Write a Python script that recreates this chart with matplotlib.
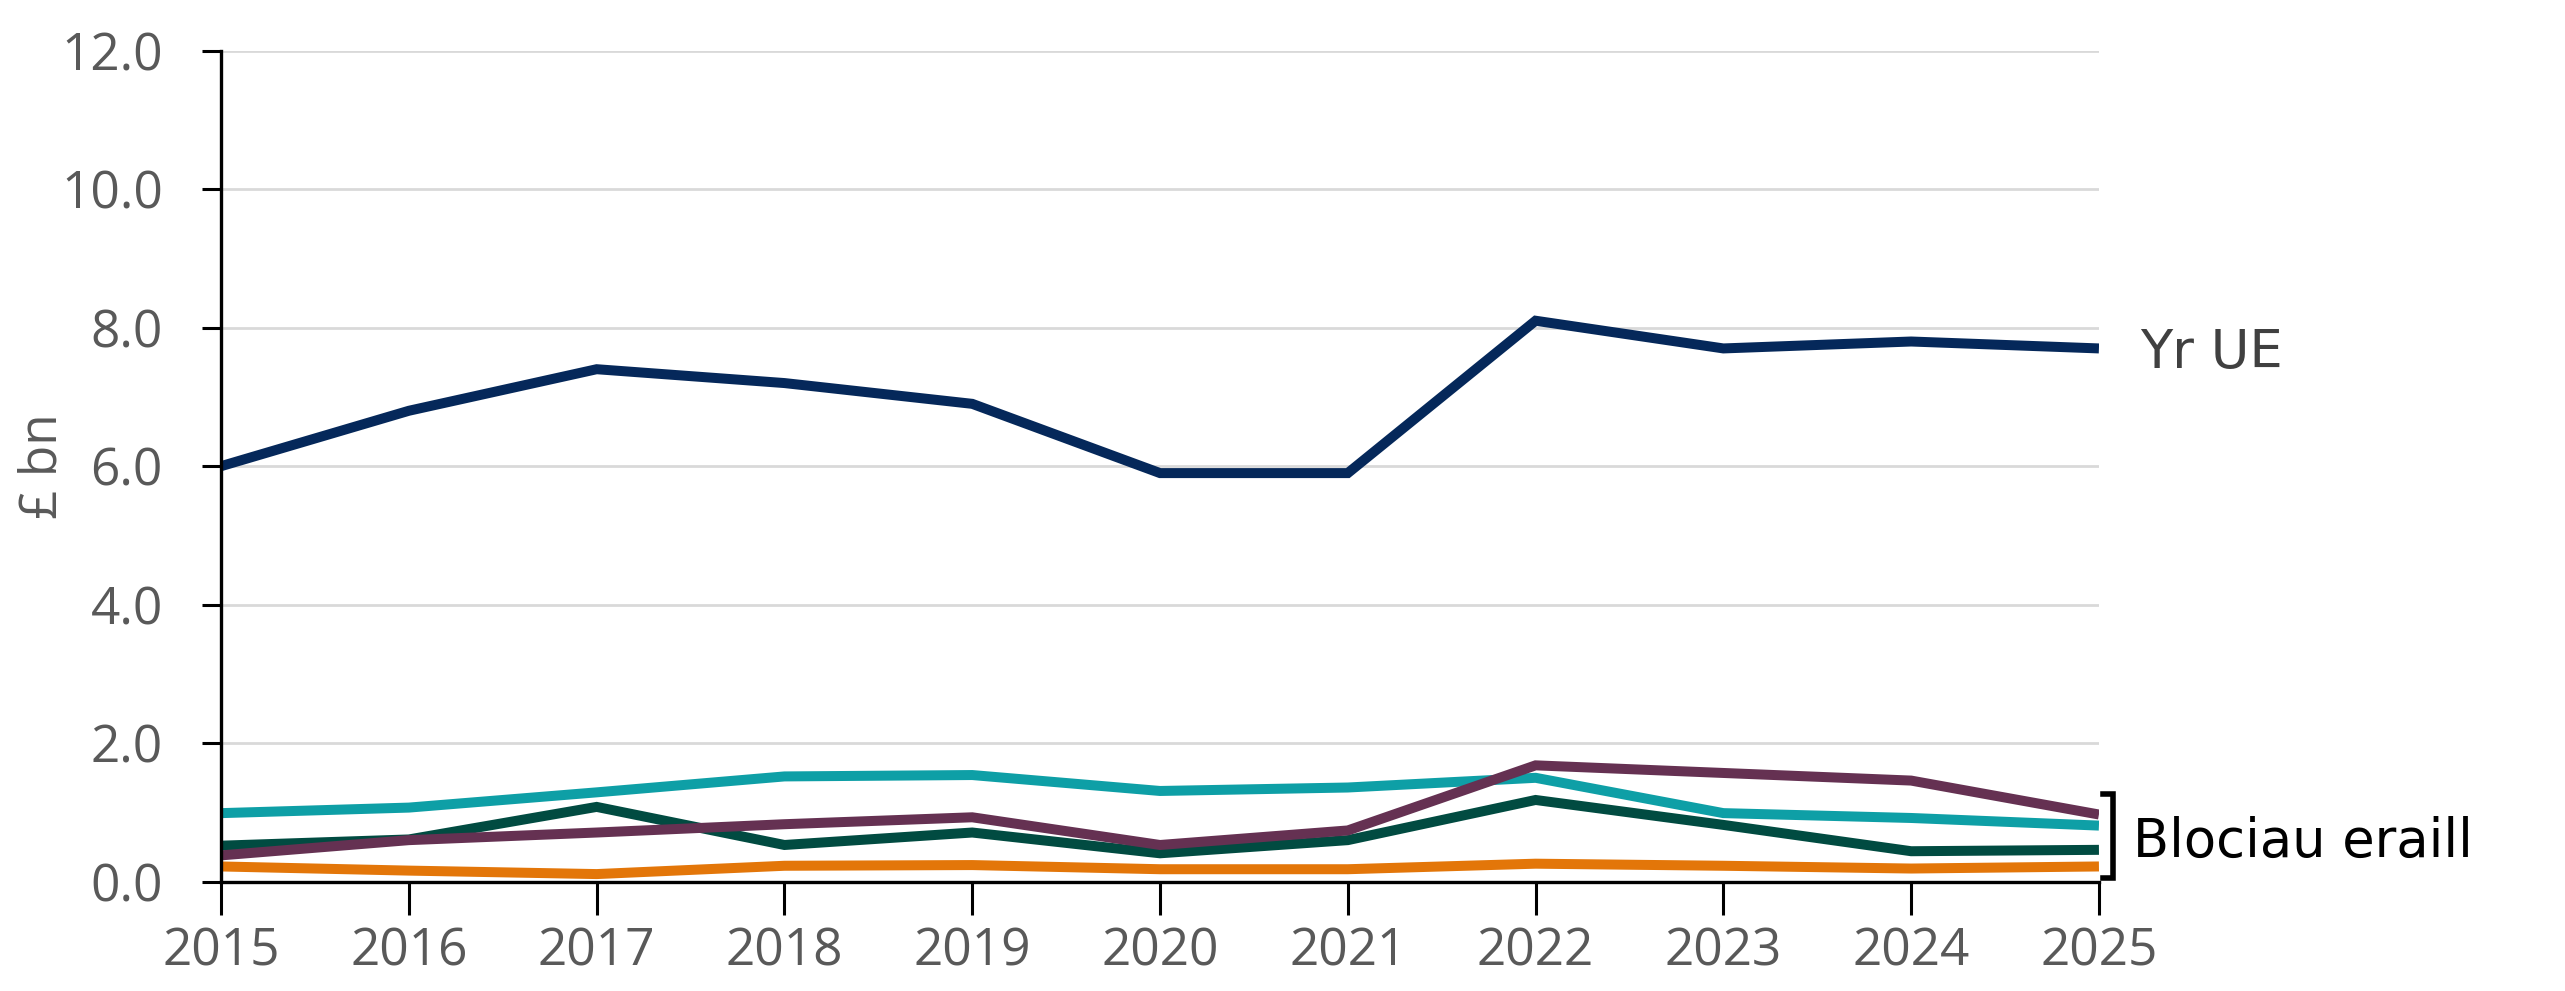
import matplotlib.pyplot as plt

plt.rcParams['font.family'] = ['Open Sans', 'DejaVu Sans']

# ── Data ─────────────────────────────────────────────────────────────────────
years = [2015, 2016, 2017, 2018, 2019, 2020, 2021, 2022, 2023, 2024, 2025]
eu = [6.0, 6.8, 7.4, 7.2, 6.9, 5.9, 5.9, 8.1, 7.7, 7.8, 7.7]
teal = [0.99, 1.07, 1.29, 1.52, 1.54, 1.31, 1.36, 1.50, 0.99, 0.92, 0.81]
green = [0.52, 0.61, 1.08, 0.53, 0.71, 0.41, 0.60, 1.18, 0.82, 0.44, 0.46]
purple = [0.38, 0.60, 0.71, 0.83, 0.93, 0.53, 0.74, 1.68, 1.57, 1.46, 0.97]
orange = [0.22, 0.16, 0.11, 0.23, 0.24, 0.18, 0.18, 0.26, 0.23, 0.19, 0.22]
yticks = [0, 2, 4, 6, 8, 10, 12]

series = [
    (teal, "#0E9FA6"),
    (green, "#014B41"),
    (purple, "#653152"),
    (orange, "#E37609"),
    (eu, "#05285A"),
]

# ── Figure ───────────────────────────────────────────────────────────────────
fig = plt.figure(figsize=(25.65, 9.91), dpi=100)
ax = fig.add_axes([0.0862, 0.1103, 0.7321, 0.8386])

for vals, col in series:
    ax.plot(years, vals, color=col, lw=7.2, solid_capstyle="butt",
            solid_joinstyle="miter", zorder=3)

ax.set_xlim(2015, 2025)
ax.set_ylim(0, 12)
ax.set_yticks(yticks)
ax.set_yticklabels([f"{v:.1f}" for v in yticks])
ax.set_xticks(years)
ax.grid(axis="y", color="#D9D9D9", lw=2.0, zorder=0)
ax.set_axisbelow(True)

for s in ["top", "right"]:
    ax.spines[s].set_visible(False)
for s in ["left", "bottom"]:
    ax.spines[s].set_linewidth(2.4)
    ax.spines[s].set_color("black")
    ax.spines[s].set_zorder(4)

ax.tick_params(axis="y", length=14, width=2.2, pad=28, labelsize=37,
               labelcolor="#595959", direction="out")
ax.tick_params(axis="x", length=24, width=2.2, pad=8, labelsize=37,
               labelcolor="#595959", direction="out")
ax.set_ylabel("£ bn", fontsize=37, color="#595959")
ax.yaxis.set_label_coords(-0.081, 0.5)

# end labels
lab_font = ["DejaVu Sans"]
ax.text(2025.22, 7.64, "Yr UE", fontsize=38, color="#404040", family=lab_font,
        va="center", ha="left", clip_on=False)
ax.plot([2025.02, 2025.075, 2025.075, 2025.02], [1.27, 1.27, 0.05, 0.05],
        color="black", lw=4, clip_on=False, solid_joinstyle="miter")
ax.text(2025.18, 0.57, "Blociau eraill", fontsize=38, color="black",
        family=lab_font, va="center", ha="left", clip_on=False)

plt.savefig("out.png", dpi=100)
